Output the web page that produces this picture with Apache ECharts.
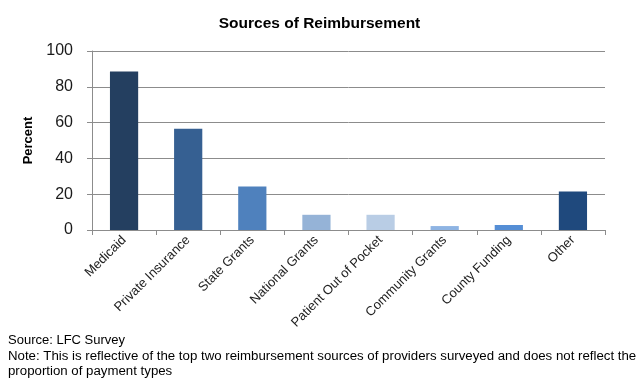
<!DOCTYPE html>
<html>
<head>
<meta charset="utf-8">
<script src="https://cdn.jsdelivr.net/npm/echarts@6/dist/echarts.min.js"></script>
<style>
  html, body { margin: 0; padding: 0; background: #fff; }
  #chart { width: 639px; height: 384px; }
</style>
</head>
<body>
<div id="chart"></div>
<script>
// Reimbursement sources reported by surveyed providers (percent)
const categories = ['Medicaid', 'Private Insurance', 'State Grants', 'National Grants',
  'Patient Out of Pocket', 'Community Grants', 'County Funding', 'Other'];
const percentValues = [88.5, 56.5, 24.3, 8.5, 8.5, 2.2, 2.8, 21.5];
const barColors = ['#243F60', '#366092', '#4F81BD', '#95B3D7', '#B9CDE5', '#8EB4E3', '#558ED5', '#1F497D'];
const yTicks = [0, 20, 40, 60, 80, 100];

const chart = echarts.init(document.getElementById('chart'), null, { renderer: 'canvas' });

const font = 'Liberation Sans, Arial, sans-serif';
const axisGray = '#8C8C8C';

chart.setOption({
  animation: false,
  title: {
    text: 'Sources of Reimbursement',
    left: 'center',
    top: 11,
    textStyle: { fontFamily: font, fontSize: 15.5, fontWeight: 'bold', color: '#000' }
  },
  grid: { left: 92, right: 34, top: 51, bottom: 154, containLabel: false },
  xAxis: {
    type: 'category',
    data: categories,
    boundaryGap: true,
    axisLine: { lineStyle: { color: axisGray, width: 1 } },
    axisTick: { show: true, alignWithLabel: false, length: 5, lineStyle: { color: axisGray } },
    axisLabel: {
      interval: 0, rotate: 45, margin: 8,
      fontFamily: font, fontSize: 13, color: '#222'
    }
  },
  yAxis: {
    type: 'value',
    min: yTicks[0],
    max: yTicks[yTicks.length - 1],
    interval: 20,
    name: 'Percent',
    nameLocation: 'middle',
    nameGap: 52,
    nameRotate: 90,
    nameTextStyle: { fontFamily: font, fontSize: 13, fontWeight: 'bold', color: '#000' },
    axisLine: { show: true, lineStyle: { color: axisGray, width: 1 } },
    axisTick: { show: true, length: 5, lineStyle: { color: axisGray } },
    axisLabel: { margin: 19, fontFamily: font, fontSize: 16, color: '#1a1a1a' },
    splitLine: { show: true, lineStyle: { color: axisGray, width: 1 } }
  },
  series: [{
    type: 'bar',
    data: percentValues.map((v, i) => ({ value: v, itemStyle: { color: barColors[i] } })),
    barWidth: '44%'
  }],
  graphic: [
    {
      type: 'text', left: 8, top: 334,
      style: { text: 'Source: LFC Survey', font: '13px ' + font, fill: '#000' }
    },
    {
      type: 'text', left: 8, top: 349,
      style: {
        text: 'Note: This is reflective of the top two reimbursement sources of providers surveyed and does not reflect the\nproportion of payment types',
        font: '13.25px ' + font, fill: '#000', lineHeight: 15
      }
    }
  ]
});
</script>
</body>
</html>
